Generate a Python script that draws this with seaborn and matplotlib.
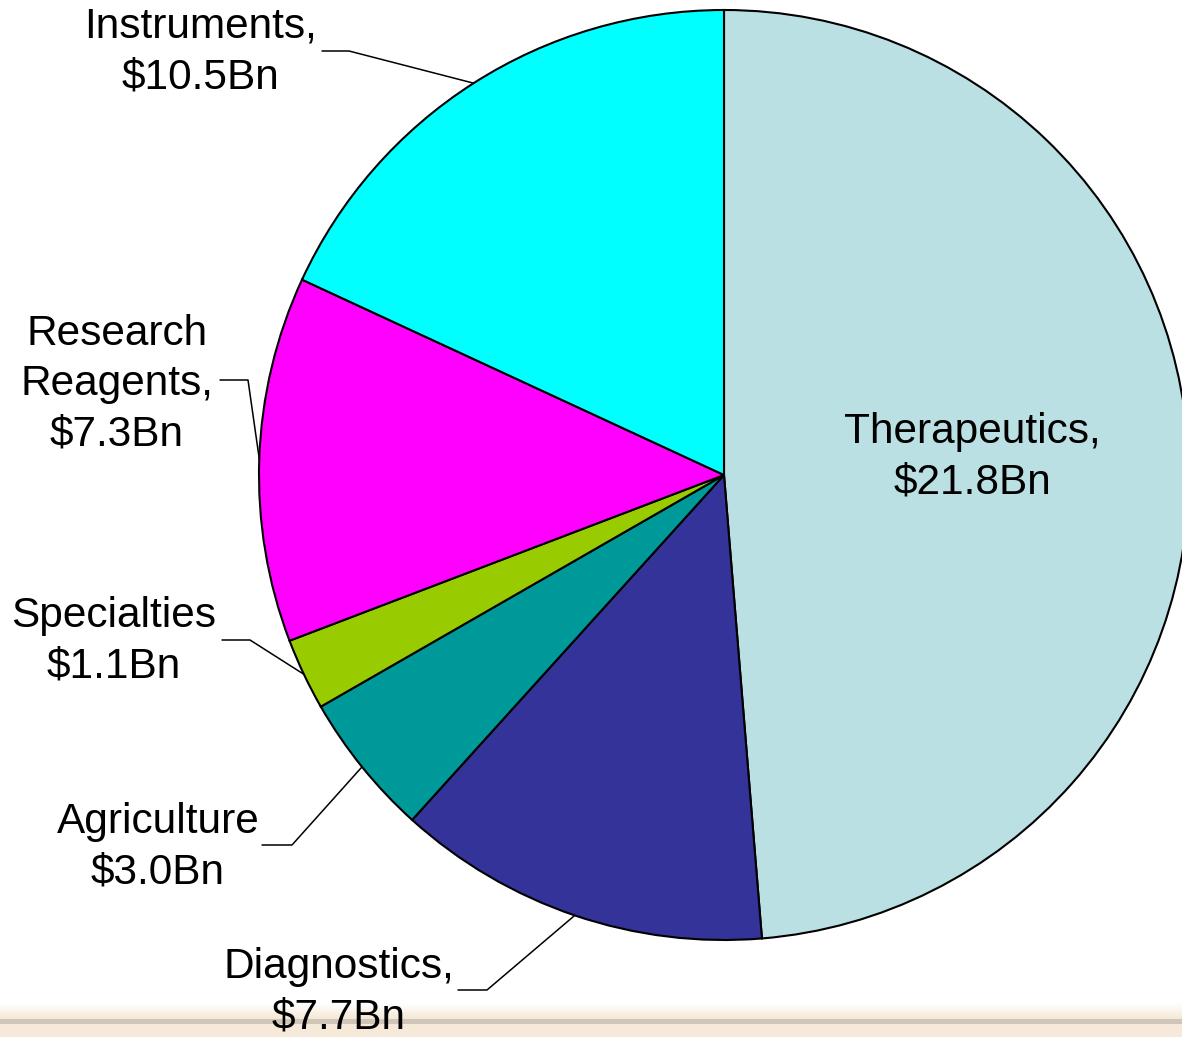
import matplotlib
matplotlib.use("Agg")
import matplotlib.pyplot as plt
import numpy as np
import seaborn as sns

sns.set_theme(style="white")
plt.rcParams["font.family"] = ["Liberation Sans", "DejaVu Sans"]

# segment names, label values and drawn shares
segments = ["Therapeutics", "Diagnostics", "Agriculture", "Specialties",
            "Research Reagents", "Instruments"]
labels = ["Therapeutics,\n$21.8Bn", "Diagnostics,\n$7.7Bn", "Agriculture\n$3.0Bn",
          "Specialties\n$1.1Bn", "Research\nReagents,\n$7.3Bn", "Instruments,\n$10.5Bn"]
shares = [48.7, 13.0, 5.0, 2.5, 12.7, 18.1]
colors = ["#BBE0E3", "#333399", "#009999", "#99CC00", "#FF00FF", "#00FFFF"]

W, H = 1182, 1037
CX, CY, R = 724, H - 475, 465

fig = plt.figure(figsize=(W / 100, H / 100), dpi=100)
ax = fig.add_axes([0, 0, 1, 1])

wedges, _ = ax.pie(shares, colors=colors, startangle=90, counterclock=False,
                   center=(CX, CY), radius=R,
                   wedgeprops=dict(edgecolor="black", linewidth=1.5))

# label text positions (pixel coords, y from top) and leader elbows
label_pos = {
    "Therapeutics": (972, 457),
    "Diagnostics": (339, 992),
    "Agriculture": (158, 847),
    "Specialties": (114, 641),
    "Research Reagents": (117, 384),
    "Instruments": (200, 52),
}
leaders = {
    "Diagnostics": (458, 487, 990),
    "Agriculture": (262, 292, 845),
    "Specialties": (222, 250, 640),
    "Research Reagents": (220, 248, 380),
    "Instruments": (322, 349, 51),
}

for seg, lab, w in zip(segments, labels, wedges):
    x, y = label_pos[seg]
    ax.text(x, H - y, lab, ha="center", va="center", fontsize=30.5,
            linespacing=1.33, color="black", zorder=6)
    if seg in leaders:
        x0, x1, yl = leaders[seg]
        mid = np.deg2rad((w.theta1 + w.theta2) / 2)
        tx, ty = CX + R * np.cos(mid), CY + R * np.sin(mid)
        ax.plot([x0, x1, tx], [H - yl, H - yl, ty], color="black", lw=1.1, zorder=5)

# beige band along the bottom edge: white fading into beige, then a thin rule
grad = np.linspace(0, 1, 50)[:, None, None]
white = np.array([1.0, 1.0, 1.0])
beige = np.array([0.96, 0.91, 0.84])
band = (1 - grad) * white + grad * beige
ax.imshow(band, extent=(0, W, H - 1019, H - 1003), aspect="auto", zorder=4)
ax.axhspan(0, H - 1024, color="#F7E9D9", lw=0, zorder=4)
ax.axhspan(H - 1024, H - 1019, color="#D0C6B8", lw=0, zorder=4)

ax.set_xlim(0, W)
ax.set_ylim(0, H)
ax.set_aspect("auto")
ax.axis("off")

fig.savefig("out.png", dpi=100)
